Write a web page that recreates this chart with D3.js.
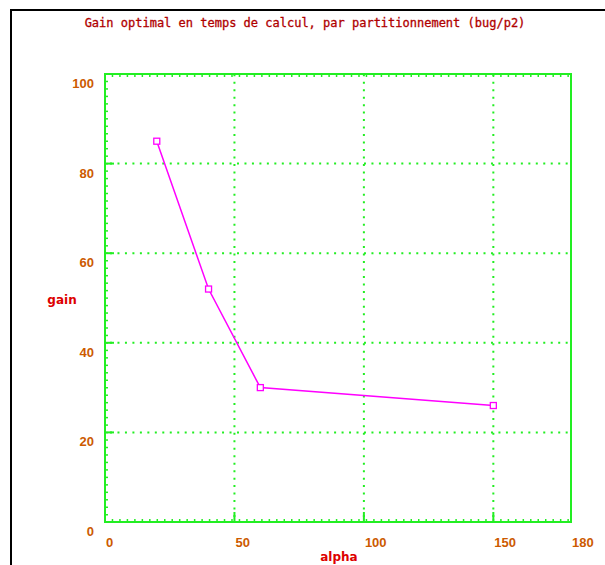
<!DOCTYPE html>
<html><head><meta charset="utf-8">
<script src="https://cdn.jsdelivr.net/npm/d3@7"></script>
<style>body{margin:0;background:#fff;}svg{display:block;}</style>
</head><body>
<svg id="c" width="605" height="565"></svg>
<script>
const alphaValues = [20, 40, 60, 150];
const gainValues = [85, 52, 30, 26];
const xTickValues = [0, 50, 100, 150, 180];
const yTickValues = [0, 20, 40, 60, 80, 100];
const xGridValues = [50, 100, 150];
const yGridValues = [20, 40, 60, 80];
const titleText = "Gain optimal en temps de calcul, par partitionnement (bug/p2)";
const xLabel = "alpha";
const yLabel = "gain";

const svg = d3.select("#c");
const x = d3.scaleLinear().domain([0, 180]).range([105, 571]);
const y = d3.scaleLinear().domain([0, 100]).range([522, 74]);
const green = "#22ee22";
const [x0, x1] = x.range();
const [y0, y1] = y.range();

// outer black frame
svg.append("line").attr("x1", 10).attr("x2", 605).attr("y1", 10).attr("y2", 10).attr("stroke", "#000").attr("stroke-width", 2);
svg.append("line").attr("x1", 11).attr("x2", 11).attr("y1", 10).attr("y2", 565).attr("stroke", "#000").attr("stroke-width", 2);

// title
svg.append("text").attr("x", 305).attr("y", 27).attr("text-anchor", "middle")
  .attr("font-family", "DejaVu Sans Mono").attr("font-size", 12).attr("fill", "#b00000")
  .attr("stroke", "#b00000").attr("stroke-width", 0.3).text(titleText);

// dotted grid
const g = svg.append("g");
g.selectAll(".hg").data(yGridValues).join("line")
  .attr("x1", x0).attr("x2", x1).attr("y1", d => y(d)).attr("y2", d => y(d))
  .attr("stroke", green).attr("stroke-width", 2).attr("stroke-dasharray", "2,5.47").attr("stroke-dashoffset", -5);
g.selectAll(".vg").data(xGridValues).join("line")
  .attr("y1", y0).attr("y2", y1).attr("x1", d => x(d)).attr("x2", d => x(d))
  .attr("stroke", green).attr("stroke-width", 2).attr("stroke-dasharray", "2,5.47").attr("stroke-dashoffset", -5);

// minor ticks along frame (pixel pattern)
const step = 7.47;
const yMinor = d3.range(y1, y0, step);
const xMinor = d3.range(x0, x1, step);
g.selectAll(".lt").data(yMinor).join("line").attr("x1", x0).attr("x2", x0 + 3).attr("y1", d => d).attr("y2", d => d).attr("stroke", green).attr("stroke-width", 1.5);
g.selectAll(".tt").data(xMinor).join("line").attr("y1", y1).attr("y2", y1 + 3).attr("x1", d => d).attr("x2", d => d).attr("stroke", green).attr("stroke-width", 1.5);
g.selectAll(".bt").data(xMinor).join("line").attr("y1", y0).attr("y2", y0 - 3).attr("x1", d => d).attr("x2", d => d).attr("stroke", green).attr("stroke-width", 1.5);
// major ticks
g.selectAll(".lm").data(yGridValues).join("line").attr("x1", x0).attr("x2", x0 + 9).attr("y1", d => y(d)).attr("y2", d => y(d)).attr("stroke", green).attr("stroke-width", 2);
g.selectAll(".bm").data(xGridValues).join("line").attr("y1", y0).attr("y2", y0 - 10).attr("x1", d => x(d)).attr("x2", d => x(d)).attr("stroke", green).attr("stroke-width", 2);

// frame
g.append("rect").attr("x", x0).attr("y", y1).attr("width", x1 - x0).attr("height", y0 - y1)
  .attr("fill", "none").attr("stroke", green).attr("stroke-width", 2);

// tick labels
const lab = "#cc5a00";
svg.selectAll(".yl").data(yTickValues).join("text")
  .attr("x", 94).attr("y", d => y(d) + 14).attr("text-anchor", "end")
  .attr("font-family", "Liberation Sans").attr("font-weight", "bold").attr("font-size", 13).attr("fill", lab).text(d => d);
svg.selectAll(".xl").data(xTickValues).join("text")
  .attr("x", d => x(d) + 1).attr("y", 547).attr("text-anchor", "start")
  .attr("font-family", "Liberation Sans").attr("font-weight", "bold").attr("font-size", 13).attr("fill", lab).text(d => d);

// axis titles
svg.append("text").attr("x", 339).attr("y", 561).attr("text-anchor", "middle")
  .attr("font-family", "DejaVu Sans").attr("font-weight", "bold").attr("font-size", 12).attr("fill", "#dd0000").text(xLabel);
svg.append("text").attr("x", 62).attr("y", 304).attr("text-anchor", "middle")
  .attr("font-family", "DejaVu Sans").attr("font-weight", "bold").attr("font-size", 12).attr("fill", "#dd0000").text(yLabel);

// series
const pts = alphaValues.map((a, i) => [a, gainValues[i]]);
svg.append("path").datum(pts).attr("d", d3.line().x(d => x(d[0])).y(d => y(d[1])))
  .attr("fill", "none").attr("stroke", "#ff00ff").attr("stroke-width", 1.5);
svg.selectAll(".m").data(pts).join("rect")
  .attr("x", d => x(d[0]) - 3).attr("y", d => y(d[1]) - 3).attr("width", 6).attr("height", 6)
  .attr("fill", "#fff").attr("stroke", "#ff00ff").attr("stroke-width", 1.3);
</script>
</body></html>
